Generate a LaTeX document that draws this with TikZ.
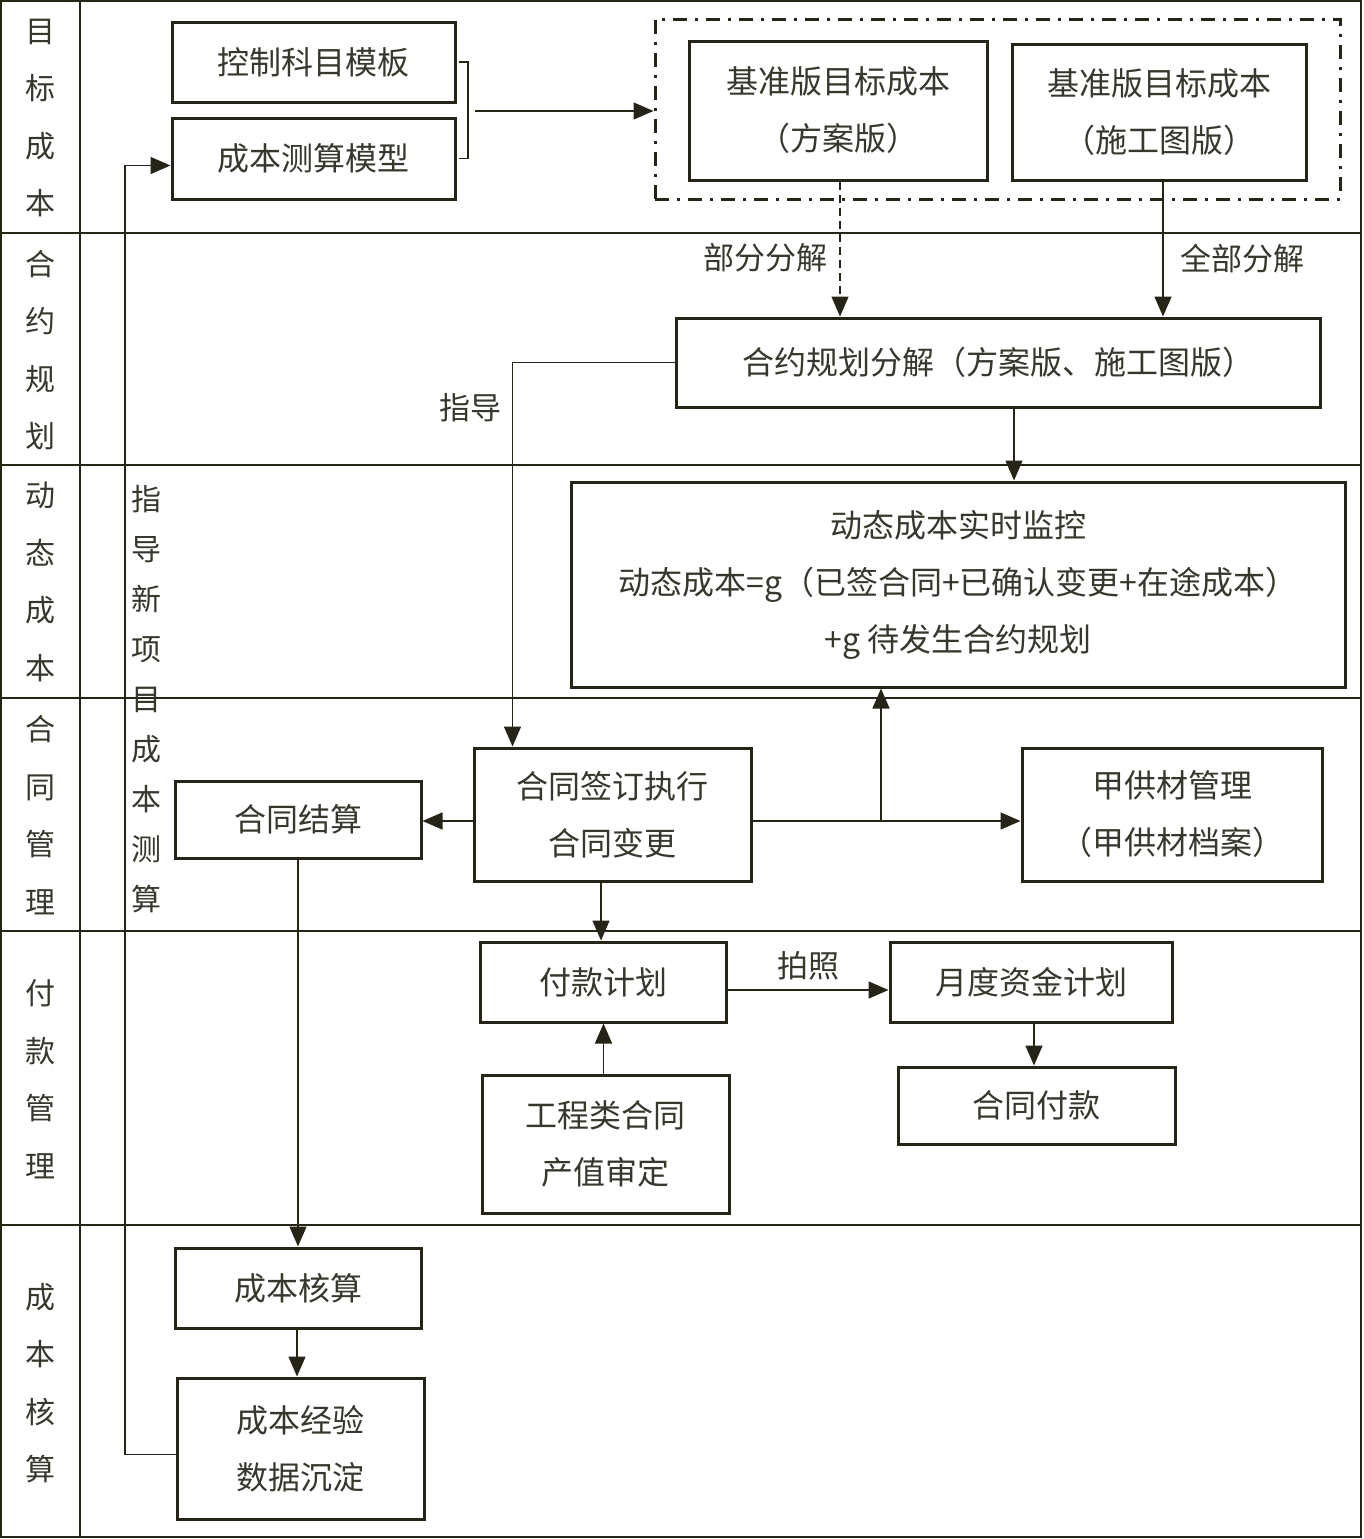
\documentclass[tikz,border=0pt]{standalone}
\usepackage{fontspec}
\setmainfont{Noto Sans CJK SC}
\usetikzlibrary{arrows.meta}
\definecolor{ink}{RGB}{38,36,22}
\definecolor{txt}{RGB}{55,55,45}
\tikzset{
  stepbox/.style={draw=ink, line width=3pt, text=txt, align=center, inner sep=0pt,
    font=\fontsize{32}{57}\selectfont},
  lane/.style={text=txt, align=center, font=\fontsize{30}{57.5}\selectfont},
  lbl/.style={text=txt, font=\fontsize{31}{36}\selectfont},
  conn/.style={draw=ink, line width=1.5pt},
  arr/.style={conn, -{Triangle[length=20pt,width=17pt]}},
}
\begin{document}
\begin{tikzpicture}[x=1pt,y=-1pt]
\useasboundingbox (0,0) rectangle (1363,1539);
\fill[white] (0,0) rectangle (1363,1539);
% frame and lanes
\draw[ink, line width=1.5pt] (1,1) rectangle (1361,1537);
\draw[ink, line width=1.5pt] (80,1) -- (80,1537);
\foreach \yy in {233,465,698,931,1225}{\draw[ink, line width=1.5pt] (1,\yy) -- (1361,\yy);}
% lane labels
\node[lane] (l1) at (40,118) {目\\标\\成\\本};
\node[lane] (l2) at (40,350) {合\\约\\规\\划};
\node[lane] (l3) at (40,582) {动\\态\\成\\本};
\node[lane] (l4) at (40,815) {合\\同\\管\\理};
\node[lane] (l5) at (40,1079) {付\\款\\管\\理};
\node[lane] (l6) at (40,1383) {成\\本\\核\\算};
% boxes
\node[stepbox, minimum width=283pt, minimum height=80pt] (ctrl) at (313.5,62) {控制科目模板};
\node[stepbox, minimum width=283pt, minimum height=81pt] (model) at (313.5,158.5) {成本测算模型};
\node[draw=ink, line width=3pt, dash pattern=on 14pt off 8pt on 3pt off 8pt, minimum width=685pt, minimum height=180pt, inner sep=0pt] (dd) at (997.5,109) {};
\node[stepbox, minimum width=298pt, minimum height=139pt] (b1) at (838,110.5) {基准版目标成本\\（方案版）};
\node[stepbox, minimum width=294pt, minimum height=136pt] (b2) at (1159,112) {基准版目标成本\\（施工图版）};
\node[stepbox, minimum width=644pt, minimum height=89pt] (hy) at (998,362.5) {合约规划分解（方案版、施工图版）};
\node[stepbox, minimum width=774pt, minimum height=205pt] (dyn) at (958,584.5) {动态成本实时监控\\动态成本=g（已签合同+已确认变更+在途成本）\\+g 待发生合约规划};
\node[stepbox, minimum width=277pt, minimum height=133pt] (sign) at (612.5,814.5) {合同签订执行\\合同变更};
\node[stepbox, minimum width=246pt, minimum height=77pt] (settle) at (298,819.5) {合同结算};
\node[stepbox, minimum width=300pt, minimum height=133pt] (jia) at (1172,814.5) {甲供材管理\\（甲供材档案）};
\node[stepbox, minimum width=246pt, minimum height=80pt] (pay) at (603,982) {付款计划};
\node[stepbox, minimum width=282pt, minimum height=80pt] (month) at (1031,982) {月度资金计划};
\node[stepbox, minimum width=277pt, minimum height=77pt] (cpay) at (1036.5,1105.5) {合同付款};
\node[stepbox, minimum width=247pt, minimum height=138pt] (eng) at (605.5,1144) {工程类合同\\产值审定};
\node[stepbox, minimum width=246pt, minimum height=80pt] (acc) at (298,1288) {成本核算};
\node[stepbox, minimum width=247pt, minimum height=141pt] (exp) at (300.5,1448.5) {成本经验\\数据沉淀};
% labels
\node[lbl] (t1) at (765,258) {部分分解};
\node[lbl] (t2) at (1242,259) {全部分解};
\node[lbl] (t3) at (470,408) {指导};
\node[lbl] (t4) at (808,966) {拍照};
\node[text=txt, align=center, font=\fontsize{30}{50}\selectfont] (t5) at (146,699) {指\\导\\新\\项\\目\\成\\本\\测\\算};
% connectors
\coordinate (bk) at (468,111);
\draw[conn] ([xshift=2pt]ctrl.east) -| (bk) |- ([xshift=2pt]model.east);
\draw[arr] ([xshift=7pt]bk) -- (bk -| dd.west);
\draw[arr, dash pattern=on 8pt off 5pt] ([xshift=2pt]b1.south) -- ([xshift=2pt]b1.south |- hy.north);
\draw[arr] ([xshift=4pt]b2.south) -- ([xshift=4pt]b2.south |- hy.north);
\draw[arr] (hy.west) -| ([xshift=-100pt]sign.north);
\draw[arr] ([xshift=16pt]hy.south) -- ([xshift=16pt]hy.south |- dyn.north);
\coordinate (mid) at (881,821);
\draw[arr] (sign.west |- mid) -- (settle.east |- mid);
\draw[arr] (sign.east |- mid) -- (jia.west |- mid);
\draw[arr] (mid) -- (dyn.south -| mid);
\draw[arr] ([xshift=-2pt]pay.north |- sign.south) -- ([xshift=-2pt]pay.north);
\draw[arr] ([yshift=-8pt]pay.east) -- ([yshift=-8pt]pay.east -| month.west);
\draw[arr] ([xshift=3pt]month.south) -- ([xshift=3pt]month.south |- cpay.north);
\draw[arr] ([xshift=-2pt]eng.north) -- ([xshift=-2pt]eng.north |- pay.south);
\draw[arr] (settle.south) -- (settle.south |- acc.north);
\draw[arr] ([xshift=-1pt]acc.south) -- ([xshift=-1pt]acc.south |- exp.north);
\coordinate (gx) at (125,0);
\draw[arr] ([yshift=-6pt]exp.west) -| ([yshift=-7pt]gx |- model.west) -- ([yshift=-7pt]model.west);
\end{tikzpicture}
\end{document}
